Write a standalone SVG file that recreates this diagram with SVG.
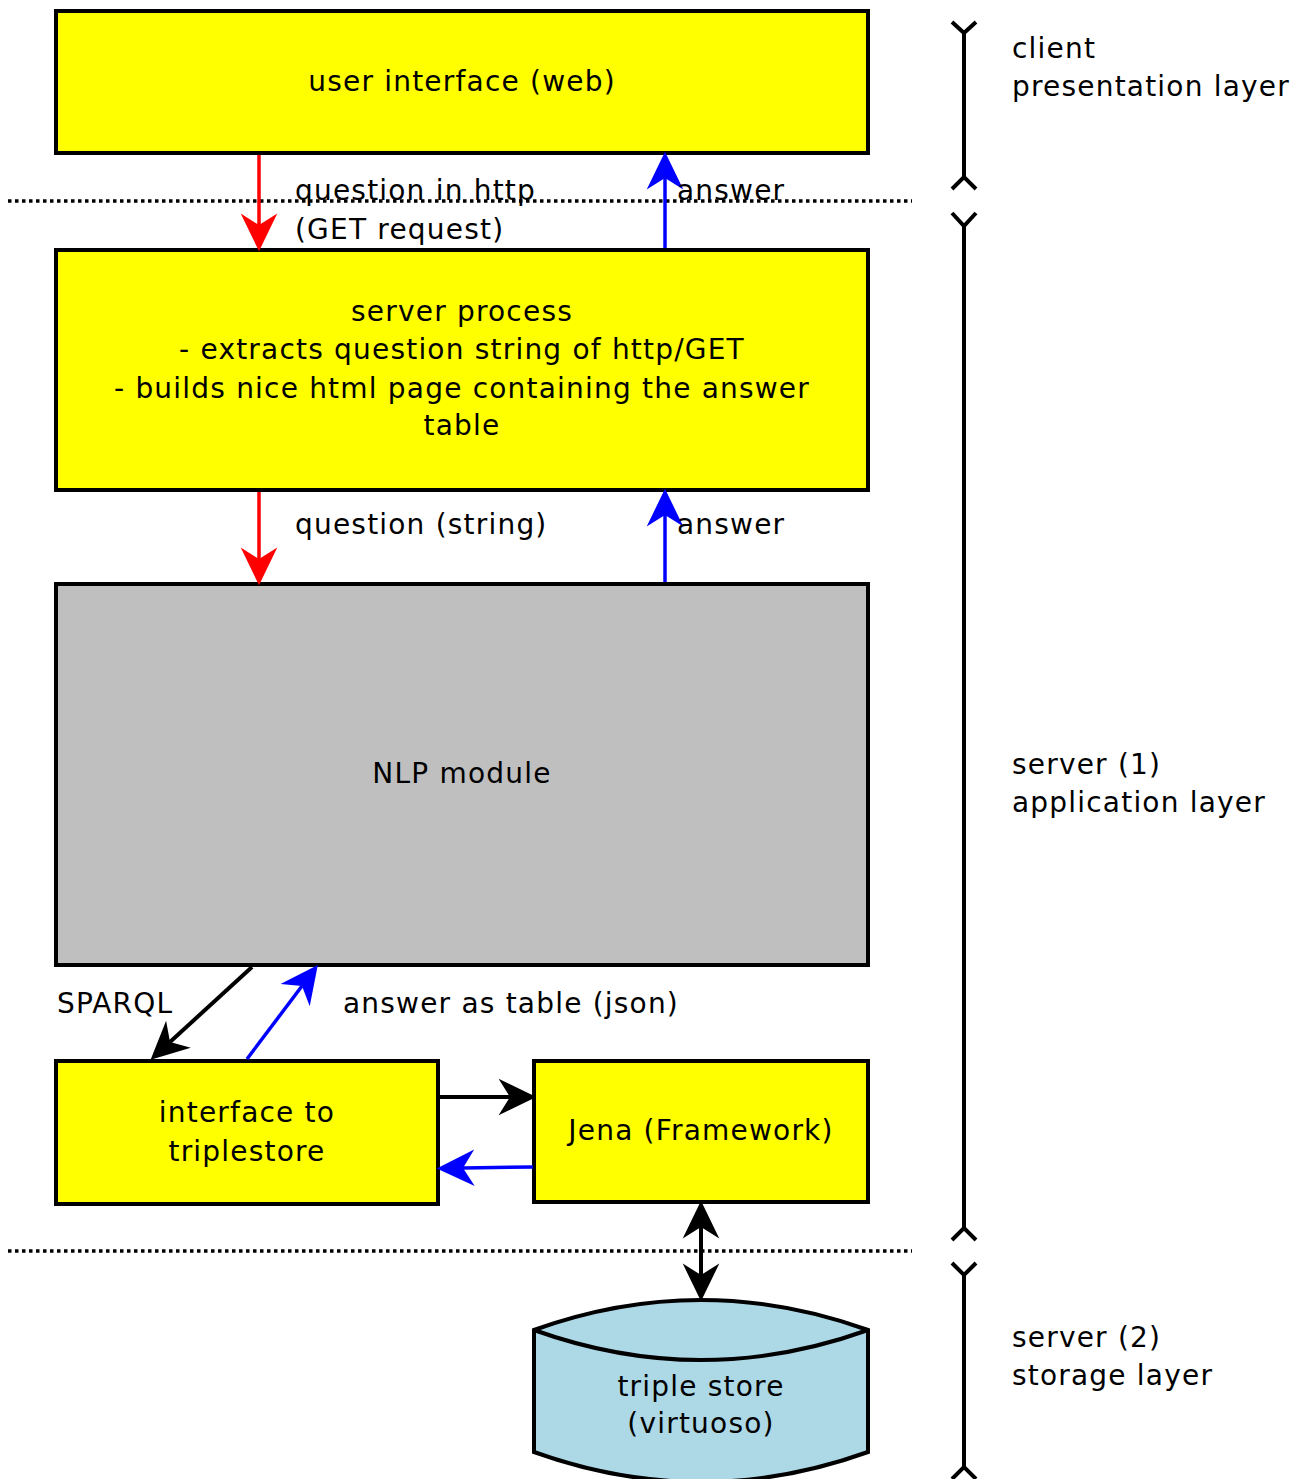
<svg xmlns="http://www.w3.org/2000/svg" width="1308" height="1479" viewBox="0 0 1308 1479">
<style>
text{font-family:"DejaVu Sans","Noto Sans",sans-serif;font-size:28px;letter-spacing:1.2px;fill:#000}
.c{text-anchor:middle}
.box{stroke:#000;stroke-width:4}
.y{fill:#ffff00}
.dot{stroke:#000;stroke-width:3.5;stroke-dasharray:3.5 3.5;fill:none}
.br{stroke:#000;stroke-width:4;fill:none}
.red{stroke:#ff0000;stroke-width:3.5;fill:none}
.blue{stroke:#0000ff;stroke-width:3.5;fill:none}
.blk{stroke:#000;stroke-width:4;fill:none}
</style>
<defs>
<marker id="aR" markerUnits="userSpaceOnUse" markerWidth="40" markerHeight="40" viewBox="-34 -17 35 34" refX="-23" refY="0" orient="auto"><path d="M0,0 L-33,-16 L-23,0 L-33,16 Z" fill="#ff0000"/></marker>
<marker id="aB" markerUnits="userSpaceOnUse" markerWidth="40" markerHeight="40" viewBox="-34 -17 35 34" refX="-23" refY="0" orient="auto"><path d="M0,0 L-33,-16 L-23,0 L-33,16 Z" fill="#0000ff"/></marker>
<marker id="aK" markerUnits="userSpaceOnUse" markerWidth="40" markerHeight="40" viewBox="-34 -17 35 34" refX="-23" refY="0" orient="auto-start-reverse"><path d="M0,0 L-33,-16 L-23,0 L-33,16 Z" fill="#000"/></marker>
</defs>
<rect width="1308" height="1479" fill="#fff"/>
<g id="layers">
<line class="dot" x1="8" y1="201" x2="912" y2="201"/>
<line class="dot" x1="8" y1="1251" x2="912" y2="1251"/>
<path class="br" d="M952,22 L964,33 L976,22 M964,33 V177 M952,189 L964,177 L976,189"/>
<path class="br" d="M952,213 L964,226 L976,213 M964,226 V1228 M952,1240 L964,1228 L976,1240"/>
<path class="br" d="M952,1263 L964,1275 L976,1263 M964,1275 V1467 M952,1479 L964,1467 L976,1479"/>
<text x="1012" y="58">client</text>
<text x="1012" y="96">presentation layer</text>
<text x="1012" y="774">server (1)</text>
<text x="1012" y="812">application layer</text>
<text x="1012" y="1347">server (2)</text>
<text x="1012" y="1385">storage layer</text>
</g>
<g id="ui">
<rect class="box y" x="56" y="11" width="812" height="142"/>
<text class="c" x="462" y="91">user interface (web)</text>
</g>
<g id="server">
<rect class="box y" x="56" y="250" width="812" height="240"/>
<text class="c" x="462" y="321">server process</text>
<text class="c" x="462" y="359">- extracts question string of http/GET</text>
<text class="c" x="462" y="398">- builds nice html page containing the answer</text>
<text class="c" x="462" y="435">table</text>
</g>
<g id="nlp">
<rect class="box" fill="#bfbfbf" x="56" y="584" width="812" height="381"/>
<text class="c" x="462" y="783">NLP module</text>
</g>
<g id="iface">
<rect class="box y" x="56" y="1061" width="382" height="143"/>
<text class="c" x="247" y="1122">interface to</text>
<text class="c" x="247" y="1161">triplestore</text>
</g>
<g id="jena">
<rect class="box y" x="534" y="1061" width="334" height="141"/>
<text class="c" x="701" y="1140">Jena (Framework)</text>
</g>
<g id="store">
<path class="box" fill="#add8e6" d="M534,1330 Q701,1270 868,1330 V1452 Q701,1512 534,1452 Z"/>
<path class="box" fill="none" d="M534,1330 Q701,1390 868,1330"/>
<text class="c" x="701" y="1396">triple store</text>
<text class="c" x="701" y="1433">(virtuoso)</text>
</g>
<g id="connectors">
<line class="red" x1="259" y1="155" x2="259" y2="225" marker-end="url(#aR)"/>
<line class="blue" x1="665" y1="248" x2="665" y2="178" marker-end="url(#aB)"/>
<line class="red" x1="259" y1="492" x2="259" y2="559" marker-end="url(#aR)"/>
<line class="blue" x1="665" y1="582" x2="665" y2="515" marker-end="url(#aB)"/>
<line class="blk" x1="252" y1="967" x2="170" y2="1042" marker-end="url(#aK)"/>
<line class="blue" x1="247" y1="1059" x2="302" y2="986" marker-end="url(#aB)"/>
<line class="blk" x1="440" y1="1097" x2="510" y2="1097" marker-end="url(#aK)"/>
<line class="blue" x1="533" y1="1167" x2="463" y2="1168" marker-end="url(#aB)"/>
<line class="blk" x1="701" y1="1227" x2="701" y2="1275" marker-start="url(#aK)" marker-end="url(#aK)"/>
<text x="295" y="200">question in http</text>
<text x="295" y="239">(GET request)</text>
<text x="677" y="200">answer</text>
<text x="295" y="534">question (string)</text>
<text x="677" y="534">answer</text>
<text x="57" y="1013">SPARQL</text>
<text x="343" y="1013">answer as table (json)</text>
</g>
</svg>
